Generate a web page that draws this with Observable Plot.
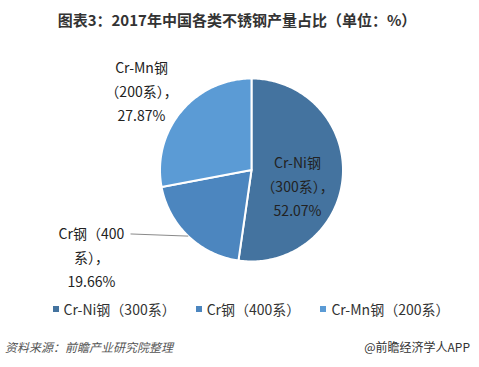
<!DOCTYPE html>
<html>
<head>
<meta charset="utf-8">
<script src="https://cdn.jsdelivr.net/npm/d3@7"></script>
<script src="https://cdn.jsdelivr.net/npm/@observablehq/plot@0.6"></script>
<style>
  body { margin: 0; background: #fff; }
  #wrap { position: relative; width: 479px; height: 367px; overflow: hidden; background: #fff;
          font-family: "Noto Sans CJK SC", "Noto Sans", sans-serif; color: #333; }
  #title { position: absolute; top: 9px; left: 0; width: 474px; text-align: center;
           font-size: 15px; font-weight: bold; color: #333; }
  #chart { position: absolute; left: 0; top: 0; }
  #legend { position: absolute; top: 299px; left: 0; width: 502px; display: flex; justify-content: center;
            gap: 20px; font-size: 14px; color: #333; }
  #legend .item { display: flex; align-items: center; white-space: nowrap; }
  #legend .sw { width: 6px; height: 6px; margin-right: 5px; }
  #src { position: absolute; left: 5px; top: 338px; font-size: 12px; font-style: italic; color: #555; }
  #brand { position: absolute; right: 9px; top: 338px; font-size: 12px; color: #333; }
</style>
</head>
<body>
<div id="wrap">
  <div id="chart"></div>
  <div id="title">图表3：2017年中国各类不锈钢产量占比（单位：%）</div>
  <div id="legend"></div>
  <div id="src">资料来源：前瞻产业研究院整理</div>
  <div id="brand">@前瞻经济学人APP</div>
</div>
<script>
// ---- data ----
const categories = ["Cr-Ni钢（300系）", "Cr钢（400系）", "Cr-Mn钢（200系）"];
const values = [52.07, 19.66, 27.87];
const labelLines = [["Cr-Ni钢", "（300系），"], ["Cr钢（400", "系），"], ["Cr-Mn钢", "（200系），"]];
const colors = ["#44739f", "#4c86bf", "#5b9bd5"];

// ---- layout (unit = pie radius, origin = pie centre) ----
const W = 479, H = 367, cx = 251, cy = 169.5, R = 91.5;
const labelPos = [[0.503, -0.153], [-1.749, -0.929], [-1.202, 0.885]];
const leaderEnd = [null, [-1.322, -0.699], null];

const arcs = d3.pie().sort(null).value(d => d)(values);
const slices = [];
arcs.forEach((a, i) => {
  const name = categories[i];
  slices.push({x: 0, y: 0, name});
  const n = Math.max(2, Math.ceil((a.endAngle - a.startAngle) / (Math.PI / 180)));
  for (let k = 0; k <= n; k++) {
    const t = a.startAngle + (a.endAngle - a.startAngle) * k / n;
    slices.push({x: Math.sin(t), y: Math.cos(t), name});
  }
  slices.push({x: 0, y: 0, name});
});

const labels = arcs.map((a, i) => ({
  x: labelPos[i][0], y: labelPos[i][1],
  text: [...labelLines[i], values[i].toFixed(2) + "%"].join("\n")
}));

const leaders = arcs.map((a, i) => {
  if (!leaderEnd[i]) return null;
  const m = (a.startAngle + a.endAngle) / 2;
  return {x1: Math.sin(m), y1: Math.cos(m), x2: leaderEnd[i][0], y2: leaderEnd[i][1]};
}).filter(d => d);

const plot = Plot.plot({
  width: W, height: H, margin: 0,
  x: {domain: [-cx / R, (W - cx) / R], axis: null},
  y: {domain: [-(H - cy) / R, cy / R], axis: null},
  color: {domain: categories, range: colors},
  style: {fontFamily: '"Noto Sans CJK SC", "Noto Sans", sans-serif', background: "transparent"},
  marks: [
    Plot.line(slices, {x: "x", y: "y", z: "name", fill: "name", stroke: "white", strokeWidth: 2, curve: "linear"}),
    Plot.link(leaders, {x1: "x1", y1: "y1", x2: "x2", y2: "y2", stroke: "#8a8a8a", strokeWidth: 1}),
    Plot.text(labels, {x: "x", y: "y", text: "text", fontSize: 14, lineHeight: 1.72, fill: "#222", textAnchor: "middle"})
  ]
});
document.getElementById("chart").appendChild(plot);

const legend = document.getElementById("legend");
categories.forEach((c, i) => {
  const item = document.createElement("div");
  item.className = "item";
  const sw = document.createElement("span");
  sw.className = "sw";
  sw.style.background = colors[i];
  const tx = document.createElement("span");
  tx.textContent = c;
  item.appendChild(sw); item.appendChild(tx);
  legend.appendChild(item);
});
</script>
</body>
</html>
